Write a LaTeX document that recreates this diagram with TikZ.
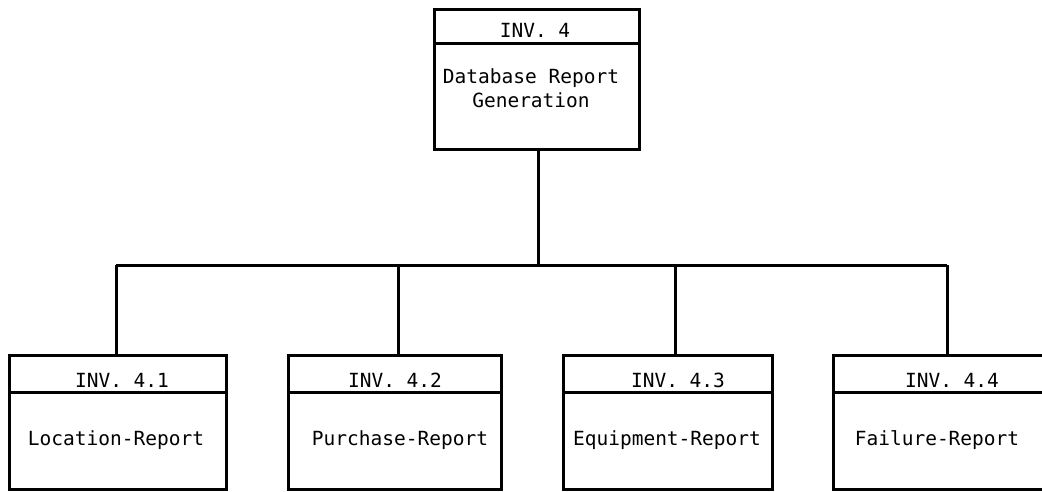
\documentclass[tikz,border=0pt]{standalone}
\usepackage{fontspec}
\setmonofont{DejaVu Sans Mono}
\begin{document}
\begin{tikzpicture}[x=1pt,y=-1pt,
  box/.style={draw, line width=3.2pt, rectangle, anchor=north west, inner sep=0pt},
  conn/.style={line width=3pt},
  hdr/.style={line width=3pt},
  lbl/.style={font=\ttfamily\fontsize{19.5}{24}\selectfont, inner sep=0pt, align=center}]
\useasboundingbox (0,0) rectangle (1042,491);
% top box
\node[box, minimum width=205pt, minimum height=140pt] (top) at (433,8) {};
\draw[hdr] (433,43) -- (638,43);
\node[lbl] (topT) at (535,30) {INV. 4};
\node[lbl] (topB) at (531,88) {Database Report\\Generation};
% bottom boxes
\node[box, minimum width=217pt, minimum height=134pt] (b1) at (8,354) {};
\node[box, minimum width=213pt, minimum height=134pt] (b2) at (287,354) {};
\node[box, minimum width=209pt, minimum height=134pt] (b3) at (562,354) {};
\node[box, minimum width=230pt, minimum height=134pt] (b4) at (832,354) {};
\draw[hdr] (8,392) -- (225,392);
\draw[hdr] (287,392) -- (500,392);
\draw[hdr] (562,392) -- (771,392);
\draw[hdr] (832,392) -- (1062,392);
\node[lbl] (t1) at (122,380) {INV. 4.1};
\node[lbl] (t2) at (395,380) {INV. 4.2};
\node[lbl] (t3) at (678,380) {INV. 4.3};
\node[lbl] (t4) at (952,380) {INV. 4.4};
\node[lbl] (l1) at (116,440) {Location-Report};
\node[lbl] (l2) at (400,440) {Purchase-Report};
\node[lbl] (l3) at (667,440) {Equipment-Report};
\node[lbl] (l4) at (937,440) {Failure-Report};
% connectors
\coordinate (d1) at (116,265);
\coordinate (d2) at (398,265);
\coordinate (d3) at (675,265);
\coordinate (d4) at (947,265);
\coordinate (dt) at (538,265);
\draw[conn] (d1) -- (d4);
\draw[conn] (dt |- top.south) -- (dt);
\draw[conn] (d1) -- (d1 |- b1.north);
\draw[conn] (d2) -- (d2 |- b2.north);
\draw[conn] (d3) -- (d3 |- b3.north);
\draw[conn] (d4) -- (d4 |- b4.north);
\end{tikzpicture}
\end{document}
